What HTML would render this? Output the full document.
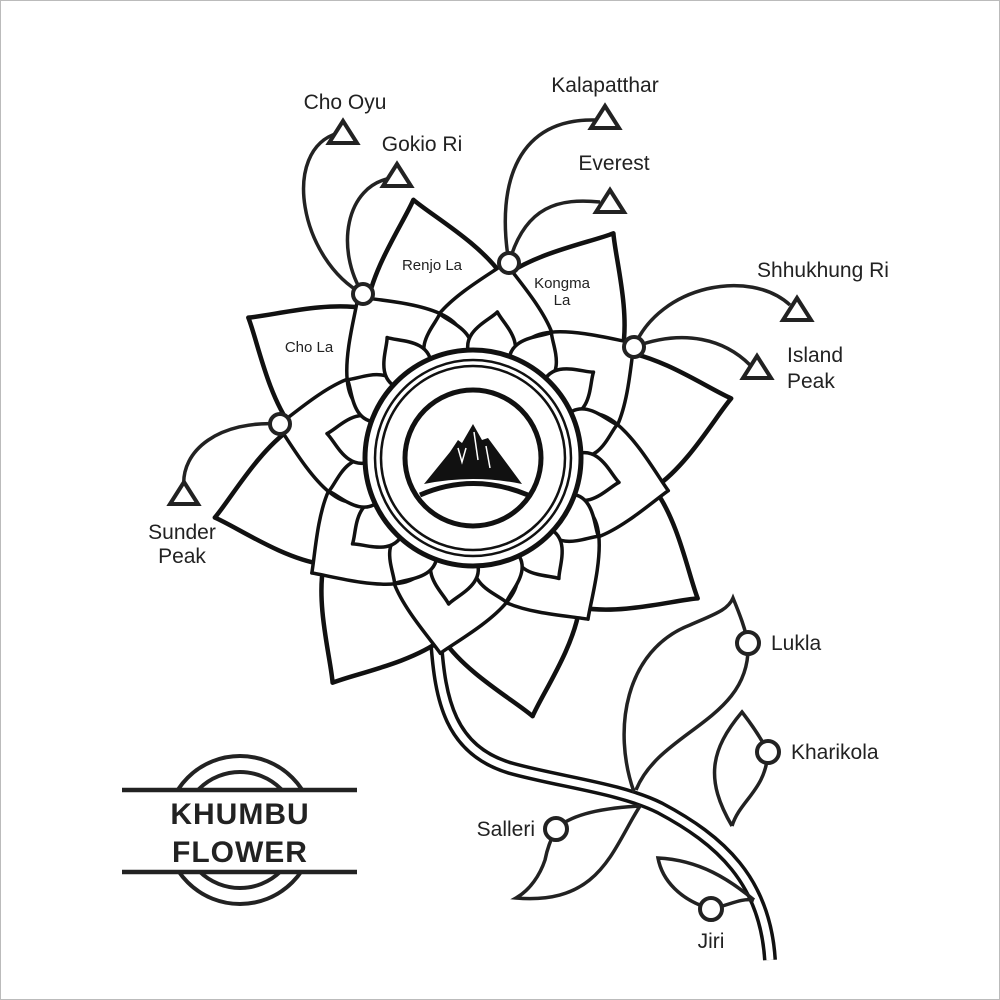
<!DOCTYPE html>
<html><head><meta charset="utf-8"><style>
html,body{margin:0;padding:0;background:#fff}
svg{display:block}
text{font-family:"Liberation Sans",sans-serif;fill:#222}
</style></head><body>
<svg id="s" width="1000" height="1000" viewBox="0 0 1000 1000" xmlns="http://www.w3.org/2000/svg">
<rect x="0.5" y="0.5" width="999" height="999" fill="#fff" stroke="#bbb" stroke-width="1"/>
<!-- stem -->
<path d="M436,640 C440,700 450,750 510,768 C560,782 620,788 660,808 C720,840 765,880 770,960" fill="none" stroke="#111" stroke-width="14"/>
<path d="M436,640 C440,700 450,750 510,768 C560,782 620,788 660,808 C720,840 765,880 770,960" fill="none" stroke="#fff" stroke-width="7"/>
<g fill="none" stroke="#222" stroke-width="3.5">
<path d="M634,792 C612,730 625,650 690,625 C715,614 728,610 733,598 C740,615 745,628 748,643 C752,720 660,730 636,790"/>
<path d="M732,826 C705,780 710,750 742,712 C752,725 762,740 768,752 C766,790 740,800 732,826"/>
<path d="M640,806 C612,850 600,905 516,898 C530,890 540,875 545,860 C548,845 552,838 556,829 M556,829 C570,815 600,808 640,806"/>
<path d="M754,900 C730,880 700,860 658,858 C662,880 680,900 711,909 C730,905 740,898 754,900"/>
</g>
<g id="flower"></g>
<!-- connectors -->
<g fill="none" stroke="#222" stroke-width="3.5">
<path d="M363,294 C300,260 280,150 338,133"/>
<path d="M363,294 C335,250 345,185 392,178"/>
<path d="M509,263 C495,180 520,118 595,120"/>
<path d="M509,263 C525,205 560,198 600,202"/>
<path d="M634,347 C660,285 750,268 790,305"/>
<path d="M634,347 C685,328 725,340 750,365"/>
<path d="M280,424 C220,420 180,450 184,488"/>
</g>
<g fill="#fff" stroke="#222" stroke-width="4">
<circle cx="363" cy="294" r="10"/><circle cx="509" cy="263" r="10"/><circle cx="634" cy="347" r="10"/><circle cx="280" cy="424" r="10"/>
<circle cx="748" cy="643" r="11"/><circle cx="768" cy="752" r="11"/><circle cx="556" cy="829" r="11"/><circle cx="711" cy="909" r="11"/>
</g>
<g fill="#fff" stroke="#222" stroke-width="4" stroke-linejoin="miter">
<path d="M343,121 L357,143 L329,143 Z"/>
<path d="M397,164 L411,186 L383,186 Z"/>
<path d="M605,106 L619,128 L591,128 Z"/>
<path d="M610,190 L624,212 L596,212 Z"/>
<path d="M797,298 L811,320 L783,320 Z"/>
<path d="M757,356 L771,378 L743,378 Z"/>
<path d="M184,482 L198,504 L170,504 Z"/>
</g>
<!-- center -->
<g fill="#fff" stroke="#111">
<circle cx="473" cy="458" r="108" stroke-width="5"/>
<circle cx="473" cy="458" r="98" stroke-width="2.5"/>
<circle cx="473" cy="458" r="92" stroke-width="2.5"/>
<circle cx="473" cy="458" r="68" stroke-width="5"/>
</g>
<path d="M420,495 Q473,472 528,495" fill="none" stroke="#111" stroke-width="5"/>
<path d="M424,484 L450,452 L458,440 L462,443 L473,424 L482,440 L488,438 L522,484 Q473,474 424,484 Z" fill="#111"/>
<path d="M458,448 L462,462 L466,448 M474,432 L478,460 M486,446 L490,468" stroke="#fff" stroke-width="1.5" fill="none"/>
<!-- labels -->
<g font-size="21">
<text x="345" y="109" text-anchor="middle">Cho Oyu</text>
<text x="422" y="151" text-anchor="middle">Gokio Ri</text>
<text x="605" y="92" text-anchor="middle">Kalapatthar</text>
<text x="614" y="170" text-anchor="middle">Everest</text>
<text x="823" y="277" text-anchor="middle">Shhukhung Ri</text>
<text x="787" y="362">Island</text><text x="787" y="388">Peak</text>
<text x="182" y="539" text-anchor="middle">Sunder</text><text x="182" y="563" text-anchor="middle">Peak</text>
<text x="771" y="650">Lukla</text>
<text x="791" y="759">Kharikola</text>
<text x="535" y="836" text-anchor="end">Salleri</text>
<text x="711" y="948" text-anchor="middle">Jiri</text>
</g>
<g font-size="15">
<text x="432" y="270" text-anchor="middle">Renjo La</text>
<text x="562" y="288" text-anchor="middle">Kongma</text><text x="562" y="305" text-anchor="middle">La</text>
<text x="309" y="352" text-anchor="middle">Cho La</text>
</g>
<!-- logo -->
<circle cx="240" cy="830" r="74" fill="none" stroke="#222" stroke-width="4"/>
<circle cx="240" cy="830" r="58" fill="none" stroke="#222" stroke-width="4"/>
<rect x="120" y="792" width="240" height="78" fill="#fff"/>
<line x1="122" y1="790" x2="357" y2="790" stroke="#222" stroke-width="4.5"/>
<line x1="122" y1="872" x2="357" y2="872" stroke="#222" stroke-width="4.5"/>
<text x="240" y="824" text-anchor="middle" font-size="30" font-weight="bold" letter-spacing="1">KHUMBU</text>
<text x="240" y="862" text-anchor="middle" font-size="30" font-weight="bold" letter-spacing="1">FLOWER</text>
</svg>
<script>
(function(){
var cx=473,cy=458,g=document.getElementById('flower'),NS='http://www.w3.org/2000/svg';
function P(r,a){return (cx+r*Math.cos(a)).toFixed(1)+','+(cy+r*Math.sin(a)).toFixed(1);}
function petal(a,rb,rt,w,sw,k){
 var d='M'+P(rb,a-w)+' C'+P(rb+(rt-rb)*0.55,a-w*k)+' '+P(rt-(rt-rb)*0.2,a-w*0.25)+' '+P(rt,a)
 +' C'+P(rt-(rt-rb)*0.2,a+w*0.25)+' '+P(rb+(rt-rb)*0.55,a+w*k)+' '+P(rb,a+w)+' Z';
 var p=document.createElementNS(NS,'path');p.setAttribute('d',d);p.setAttribute('fill','#fff');
 p.setAttribute('stroke','#111');p.setAttribute('stroke-width',sw);p.setAttribute('stroke-linejoin','round');g.appendChild(p);}
var D=Math.PI/180,i;
for(i=0;i<8;i++)petal((-103+45*i)*D,105,265,0.42,4.5,1.7);
for(i=0;i<8;i++)petal((-80.5+45*i)*D,100,198,0.45,3.5,1.6);
for(i=0;i<16;i++)petal((-103+22.5*i)*D,100,148,0.19,3.5,1.5);
})();
</script>
</body></html>
